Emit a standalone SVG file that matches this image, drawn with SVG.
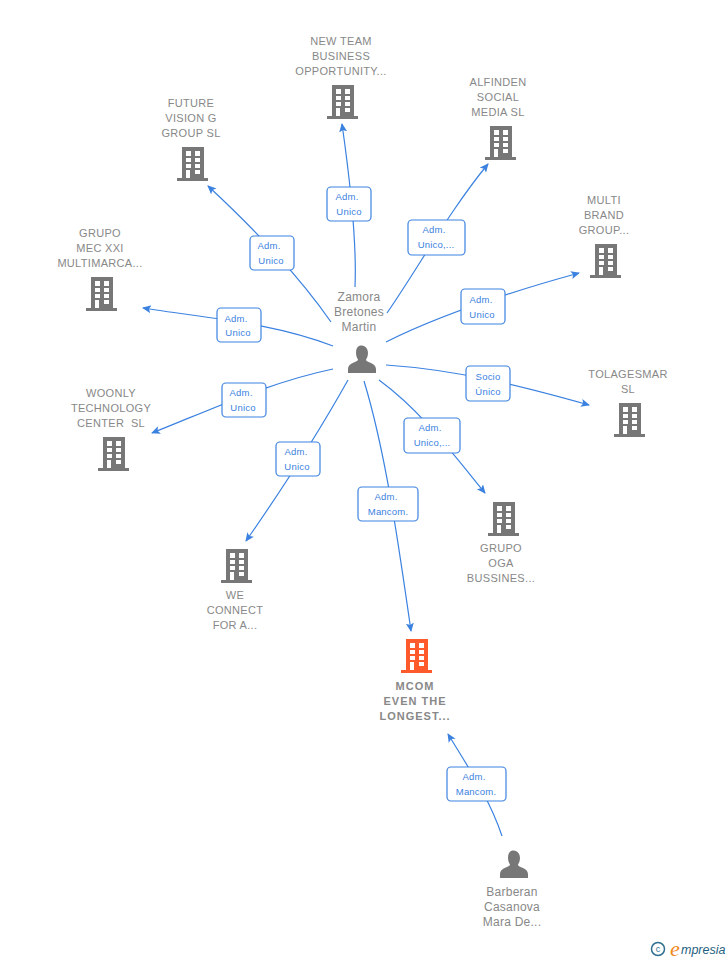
<svg xmlns="http://www.w3.org/2000/svg" width="728" height="960" viewBox="0 0 728 960">
<style>
text{font-family:"Liberation Sans",Arial,sans-serif;white-space:pre}
.n{font-size:11px;fill:#888;text-anchor:middle;letter-spacing:.32px}
.p{font-size:12px;fill:#888;text-anchor:middle;letter-spacing:.25px}
.b{font-size:11px;fill:#888;text-anchor:middle;font-weight:bold;letter-spacing:1px}
.l{font-size:9.5px;fill:#3b7fe0;text-anchor:middle;letter-spacing:.2px}
.c{fill:none;stroke:#3b82e0;stroke-width:1.2}
.r{fill:#fff;stroke:#3b82e0;stroke-width:1.2}
</style>
<defs>
<marker id="a" markerWidth="10" markerHeight="10" refX="8" refY="4" orient="auto" markerUnits="userSpaceOnUse"><path d="M0 0L9 4L0 8L2 4Z" fill="#3b82e0"/></marker>
<g id="bld"><path d="M-11 -17H11V14H15V17H-16V14H-11Z"/><g fill="#fff"><rect x="-7" y="-13" width="5" height="5"/><rect x="2" y="-13" width="5" height="5"/><rect x="-7" y="-6" width="5" height="4"/><rect x="2" y="-6" width="5" height="4"/><rect x="-7" y="0" width="5" height="4"/><rect x="2" y="0" width="5" height="4"/><rect x="-7" y="6" width="4" height="8"/><rect x="2" y="6" width="5" height="4"/></g></g>
<path id="per" d="M-3 -17C3 -19 6 -14 6 -10C6 -6 4 -4 4 -3C4 -1 14 0 14 6V10H-14V6C-14 0 -5 -1 -4 -3C-4 -4 -6 -6 -6 -10C-6 -14 -5 -16 -3 -17Z"/>
</defs>
<g id="connectors">
<path class="c" marker-end="url(#a)" d="M355 287C357 240 350 180 342 124"/>
<path class="c" marker-end="url(#a)" d="M387 313C420 265 450 210 488 164"/>
<path class="c" marker-end="url(#a)" d="M386 342C440 315 510 292 579 273"/>
<path class="c" marker-end="url(#a)" d="M386 365C460 370 525 387 589 405"/>
<path class="c" marker-end="url(#a)" d="M379 380C420 410 450 450 485 493"/>
<path class="c" marker-end="url(#a)" d="M364 381C385 450 398 540 411 631"/>
<path class="c" marker-end="url(#a)" d="M348 380C320 430 285 485 246 541"/>
<path class="c" marker-end="url(#a)" d="M333 369C270 382 210 410 152 433"/>
<path class="c" marker-end="url(#a)" d="M333 346C270 322 205 318 143 308"/>
<path class="c" marker-end="url(#a)" d="M331 322C295 270 250 225 208 186"/>
<path class="c" marker-end="url(#a)" d="M502 836C490 800 470 770 448 734"/>
</g>
<g id="edge-labels">
<g><rect class="r" x="327" y="187" width="44" height="34" rx="4"/><text class="l" x="347" y="200">Adm.</text><text class="l" x="349" y="215">Unico</text></g>
<g><rect class="r" x="408" y="220" width="57" height="35" rx="4"/><text class="l" x="434" y="233">Adm.</text><text class="l" x="436" y="248">Unico,...</text></g>
<g><rect class="r" x="461" y="289" width="44" height="35" rx="4"/><text class="l" x="481" y="303">Adm.</text><text class="l" x="482" y="318">Unico</text></g>
<g><rect class="r" x="466" y="366" width="44" height="35" rx="4"/><text class="l" x="488" y="380">Socio</text><text class="l" x="488" y="395">Único</text></g>
<g><rect class="r" x="404" y="418" width="56" height="35" rx="4"/><text class="l" x="430" y="431">Adm.</text><text class="l" x="432" y="446">Unico,...</text></g>
<g><rect class="r" x="358" y="487" width="60" height="34" rx="4"/><text class="l" x="386" y="500">Adm.</text><text class="l" x="388" y="515">Mancom.</text></g>
<g><rect class="r" x="276" y="442" width="44" height="34" rx="4"/><text class="l" x="296" y="455">Adm.</text><text class="l" x="297" y="470">Unico</text></g>
<g><rect class="r" x="222" y="383" width="44" height="34" rx="4"/><text class="l" x="241" y="396">Adm.</text><text class="l" x="243" y="411">Unico</text></g>
<g><rect class="r" x="217" y="308" width="44" height="34" rx="4"/><text class="l" x="236" y="322">Adm.</text><text class="l" x="238" y="336">Unico</text></g>
<g><rect class="r" x="250" y="236" width="44" height="34" rx="4"/><text class="l" x="269" y="249">Adm.</text><text class="l" x="271" y="264">Unico</text></g>
<g><rect class="r" x="447" y="767" width="59" height="34" rx="4"/><text class="l" x="474" y="780">Adm.</text><text class="l" x="476" y="795">Mancom.</text></g>
</g>
<g id="new-team"><text class="n" x="341" y="45">NEW TEAM</text><text class="n" x="341" y="60">BUSINESS</text><text class="n" x="341" y="75">OPPORTUNITY...</text><use href="#bld" x="343" y="102" fill="#777"/></g>
<g id="alfinden"><text class="n" x="498" y="86">ALFINDEN</text><text class="n" x="498" y="101">SOCIAL</text><text class="n" x="498" y="116">MEDIA SL</text><use href="#bld" x="501" y="143" fill="#777"/></g>
<g id="future"><text class="n" x="191" y="107">FUTURE</text><text class="n" x="191" y="122">VISION G</text><text class="n" x="191" y="137">GROUP SL</text><use href="#bld" x="193" y="164" fill="#777"/></g>
<g id="multi"><text class="n" x="604" y="204">MULTI</text><text class="n" x="604" y="219">BRAND</text><text class="n" x="604" y="234">GROUP...</text><use href="#bld" x="606" y="261" fill="#777"/></g>
<g id="grupo-mec"><text class="n" x="100" y="237">GRUPO</text><text class="n" x="100" y="252">MEC XXI</text><text class="n" x="100" y="267">MULTIMARCA...</text><use href="#bld" x="102" y="294" fill="#777"/></g>
<g id="tolagesmar"><text class="n" x="628" y="378">TOLAGESMAR</text><text class="n" x="628" y="393">SL</text><use href="#bld" x="630" y="420" fill="#777"/></g>
<g id="woonly"><text class="n" x="111" y="397">WOONLY</text><text class="n" x="111" y="412">TECHNOLOGY</text><text class="n" x="111" y="427">CENTER  SL</text><use href="#bld" x="114" y="454" fill="#777"/></g>
<g id="grupo-oga"><use href="#bld" x="504" y="519" fill="#777"/><text class="n" x="501" y="552">GRUPO</text><text class="n" x="501" y="567">OGA</text><text class="n" x="501" y="582">BUSSINES...</text></g>
<g id="we-connect"><use href="#bld" x="237" y="566" fill="#777"/><text class="n" x="235" y="599">WE</text><text class="n" x="235" y="614">CONNECT</text><text class="n" x="235" y="629">FOR A...</text></g>
<g id="mcom"><use href="#bld" x="417" y="656" fill="#ff5a2c"/><text class="b" x="415" y="690">MCOM</text><text class="b" x="415" y="705">EVEN THE</text><text class="b" x="415" y="720">LONGEST...</text></g>
<g id="zamora"><text class="p" x="359" y="301">Zamora</text><text class="p" x="359" y="316">Bretones</text><text class="p" x="359" y="331">Martin</text><use href="#per" x="362" y="363" fill="#777"/></g>
<g id="barberan"><use href="#per" x="514" y="868" fill="#777"/><text class="p" x="512" y="896">Barberan</text><text class="p" x="512" y="911">Casanova</text><text class="p" x="512" y="926">Mara De...</text></g>
<g id="logo"><circle cx="658" cy="949" r="6.5" fill="none" stroke="#2f6f8f" stroke-width="1.5"/><text x="658" y="952" font-size="9" fill="#2f6f8f" text-anchor="middle">c</text><text x="670" y="956" font-size="22" font-style="italic" fill="#f08a1d" style="font-family:'Liberation Serif',serif">e</text><text x="681" y="954" font-size="12.5" font-style="italic" fill="#1f5f80">mpresia</text></g>
</svg>
